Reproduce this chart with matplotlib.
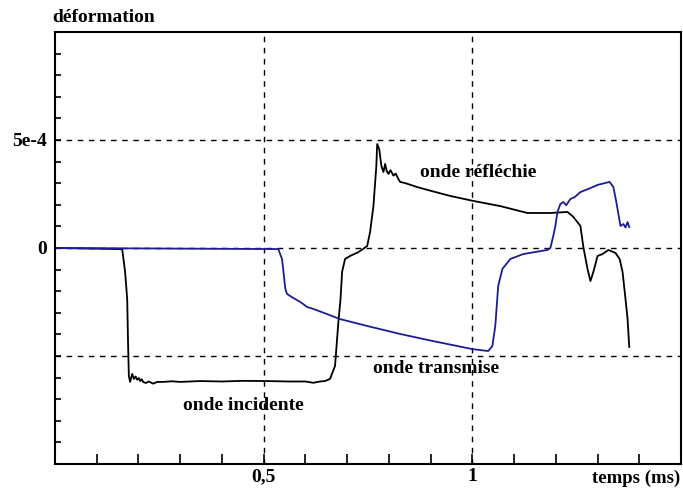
import numpy as np
import matplotlib
matplotlib.use("Agg")
import matplotlib.pyplot as plt

# jauge incidente : onde incidente puis onde réfléchie (temps en ms, déformation en 1e-4)
t_noir = [0.0, 0.161, 0.168, 0.173, 0.175, 0.177, 0.180, 0.185, 0.189, 0.193, 0.197, 0.201,
          0.204, 0.208, 0.211, 0.218, 0.225, 0.235, 0.245, 0.259, 0.280, 0.300, 0.348, 0.400,
          0.450, 0.508, 0.560, 0.600, 0.619, 0.635, 0.647, 0.659, 0.671, 0.679, 0.684, 0.688,
          0.695, 0.707, 0.727, 0.748, 0.755, 0.763, 0.770, 0.772, 0.777, 0.782, 0.787, 0.791,
          0.795, 0.799, 0.804, 0.811, 0.816, 0.823, 0.827, 0.840, 0.868, 0.900, 0.947, 1.002,
          1.067, 1.132, 1.160, 1.187, 1.228, 1.242, 1.259, 1.266, 1.276, 1.283, 1.290, 1.300,
          1.312, 1.326, 1.343, 1.353, 1.360, 1.367, 1.372, 1.376]
e_noir = [0.0, -0.05, -1.11, -2.36, -4.35, -5.93, -6.20, -5.83, -6.06, -5.95, -6.10, -6.02,
          -6.16, -6.08, -6.20, -6.25, -6.18, -6.28, -6.20, -6.20, -6.17, -6.20, -6.16, -6.18,
          -6.15, -6.16, -6.18, -6.18, -6.24, -6.18, -6.16, -6.06, -5.46, -3.43, -2.40, -1.10,
          -0.51, -0.37, -0.19, 0.09, 0.74, 1.94, 3.80, 4.81, 4.58, 3.80, 3.52, 3.89,
          3.55, 3.43, 3.60, 3.35, 3.45, 3.19, 3.06, 3.00, 2.82, 2.65, 2.41, 2.18,
          1.94, 1.62, 1.62, 1.62, 1.67, 1.44, 1.02, 0.05, -0.97, -1.53, -1.11, -0.37,
          -0.28, -0.09, -0.23, -0.51, -1.11, -2.36, -3.29, -4.58]

# jauge transmise
t_bleu = [0.0, 0.535, 0.544, 0.552, 0.556, 0.570, 0.588, 0.604, 0.619, 0.652, 0.683, 0.748,
          0.827, 0.906, 1.000, 1.038, 1.048, 1.055, 1.062, 1.072, 1.091, 1.122, 1.180, 1.187,
          1.194, 1.199, 1.204, 1.211, 1.218, 1.225, 1.235, 1.245, 1.259, 1.280, 1.300, 1.329,
          1.338, 1.345, 1.355, 1.362, 1.367, 1.372, 1.376]
e_bleu = [0.0, -0.05, -0.51, -1.90, -2.13, -2.30, -2.50, -2.73, -2.82, -3.06, -3.29, -3.61,
          -3.98, -4.31, -4.68, -4.77, -4.54, -3.61, -1.76, -0.97, -0.51, -0.28, -0.09, 0.0,
          0.56, 1.02, 1.67, 2.04, 2.13, 1.98, 2.27, 2.35, 2.59, 2.75, 2.92, 3.06,
          2.82, 2.13, 1.02, 1.11, 0.95, 1.20, 0.97]

y_ticklabels = {0: "0", 5: "5e-4"}
x_ticklabels = {5: "0,5", 10: "1"}

plt.rcParams['font.family'] = ['Liberation Serif', 'DejaVu Serif']
plt.rcParams['font.weight'] = 'bold'

fig = plt.figure(figsize=(6.83, 4.92), dpi=100)
ax = fig.add_axes([55/683, 1 - 464/492, 626/683, 432/492])

ax.plot(t_noir, np.array(e_noir) * 1e-4, color="black", lw=1.3)
ax.plot(t_bleu, np.array(e_bleu) * 1e-4, color="#1c1c96", lw=1.3)

# grille pointillée
for yv in [5e-4, 0, -5e-4]:
    ax.axhline(yv, color="black", lw=1, ls=(0, (4, 4)), zorder=0)
for xv in [0.5, 1.0]:
    ax.axvline(xv, color="black", lw=1, ls=(0, (4, 4)), zorder=0)

ax.set_xlim(0, 1.5)
ax.set_ylim(-1e-3, 1e-3)

xt = np.arange(0, 16)
ax.set_xticks(xt * 0.1)
ax.set_xticklabels([x_ticklabels.get(i, "") for i in xt])
yt = np.arange(-10, 11)
ax.set_yticks(yt * 1e-4)
ax.set_yticklabels([y_ticklabels.get(i, "") for i in yt])
ax.tick_params(axis="x", direction="in", length=7, width=1.2, labelsize=14, pad=3)
ax.tick_params(axis="y", direction="in", length=4, width=1.2, labelsize=14, pad=6)
for s in ax.spines.values():
    s.set_linewidth(1.5)

fig.text(52/683, 1 - 18/492, "déformation", fontsize=14, fontweight="bold", va="center", ha="left")
fig.text(680/683, 1 - 478/492, "temps (ms)", fontsize=13.5, fontweight="bold", va="center", ha="right")

ax.text(1.013, 3.5e-4, "onde réfléchie", fontsize=14, fontweight="bold", ha="center", va="center")
ax.text(0.914, -5.6e-4, "onde transmise", fontsize=14, fontweight="bold", ha="center", va="center")
ax.text(0.451, -7.3e-4, "onde incidente", fontsize=14, fontweight="bold", ha="center", va="center")

fig.savefig("out.png", dpi=100)
